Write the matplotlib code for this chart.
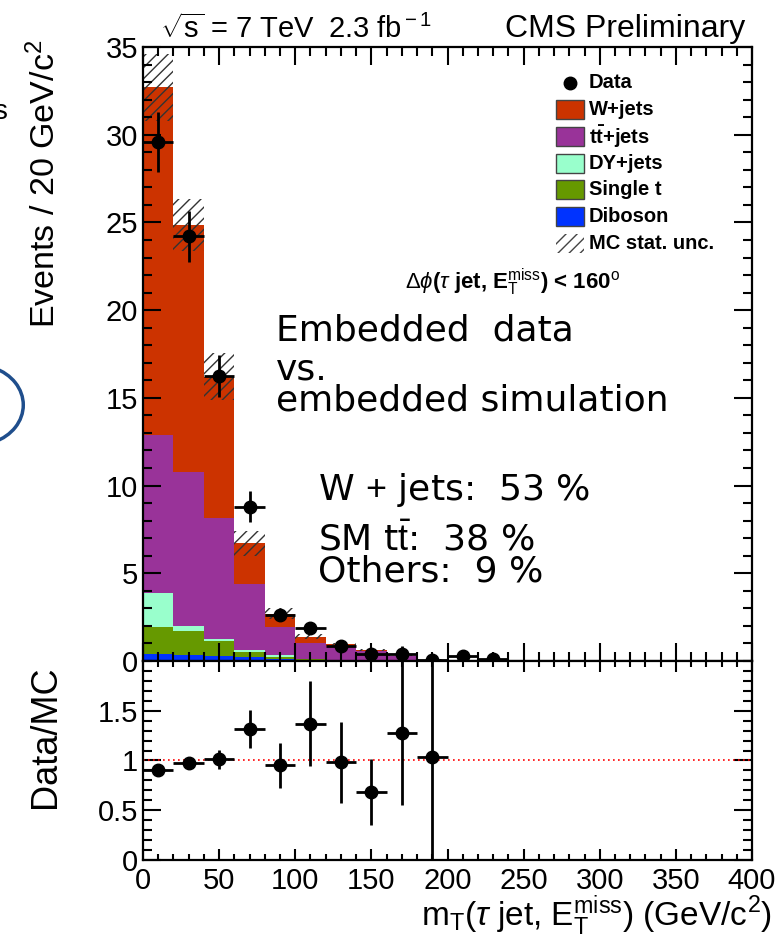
import matplotlib
matplotlib.use('Agg')
import matplotlib.pyplot as plt
import numpy as np
from matplotlib.patches import Rectangle, Arc
from matplotlib.lines import Line2D
from matplotlib.ticker import MultipleLocator

plt.rcParams['font.family'] = ['Liberation Sans', 'DejaVu Sans']
plt.rcParams['mathtext.fontset'] = 'custom'
plt.rcParams['mathtext.rm'] = 'Liberation Sans'
plt.rcParams['mathtext.it'] = 'Liberation Sans:italic'
plt.rcParams['mathtext.bf'] = 'Liberation Sans:bold'
plt.rcParams['hatch.linewidth'] = 1.0

# transverse mass bins, 20 GeV wide
edges = np.arange(0, 260, 20)

# MC stack, events per bin (bottom to top)
diboson  = [0.40, 0.34, 0.26, 0.20, 0.10, 0.05, 0.03, 0.02, 0.01, 0.01, 0.00, 0.00]
single_t = [1.56, 1.37, 0.90, 0.33, 0.14, 0.05, 0.03, 0.02, 0.01, 0.00, 0.00, 0.00]
dy_jets  = [1.94, 0.29, 0.09, 0.10, 0.10, 0.03, 0.02, 0.01, 0.00, 0.00, 0.00, 0.00]
tt_jets  = [9.00, 8.80, 6.90, 3.77, 1.60, 0.89, 0.78, 0.54, 0.28, 0.06, 0.03, 0.02]
w_jets   = [19.8, 14.06, 8.05, 2.30, 0.76, 0.37, 0.11, 0.02, 0.00, 0.00, 0.00, 0.00]
mc_unc   = [1.90, 1.50, 1.35, 0.70, 0.30, 0.15, 0.08, 0.05, 0.03, 0.02, 0.01, 0.01]

# embedded data
data     = [29.6, 24.2, 16.25, 8.8, 2.62, 1.88, 0.86, 0.40, 0.40, 0.06, 0.30, 0.10]
data_err = [1.70, 1.45, 1.20, 0.90, 0.35, 0.25, 0.25, 0.20, 0.45, 0.35, 0.20, 0.15]

# data/MC ratio, first ten bins
ratio     = [0.90, 0.97, 1.01, 1.32, 0.95, 1.37, 0.98, 0.68, 1.28, 1.04]
ratio_err = [0.05, 0.05, 0.10, 0.19, 0.23, 0.43, 0.41, 0.33, 0.73, 1.05]

samples = [diboson, single_t, dy_jets, tt_jets, w_jets]
colors = ['#0033ff', '#669900', '#99ffcc', '#993399', '#cc3300']
names = ['Diboson', 'Single t', 'DY+jets', r'$\mathbf{t\bar{t}}$+jets', 'W+jets']

left = edges[:-1]
centers = left + 10
W = 776 / 100.0
H = 938 / 100.0
fig = plt.figure(figsize=(W, H), dpi=100)
ax1 = fig.add_axes([0.1843, 0.2953, 0.7848, 0.6546])
ax2 = fig.add_axes([0.1843, 0.0832, 0.7848, 0.2121])

bottom = np.zeros(len(left))
for vals, col in zip(samples, colors):
    ax1.bar(left, vals, width=20, bottom=bottom, align='edge', color=col, linewidth=0)
    bottom = bottom + np.array(vals)
total = bottom
unc = np.array(mc_unc)
ax1.bar(left, 2 * unc, width=20, bottom=total - unc, align='edge', fill=False,
        hatch='///', edgecolor='#333333', linewidth=0)

ax1.errorbar(centers, data, yerr=data_err, xerr=10, fmt='o', color='k', ms=9,
             elinewidth=2, capsize=0)

ax2.axhline(1.0, color='red', ls=(0, (1, 2)), lw=1.2)
ax2.errorbar(centers[:len(ratio)], ratio, yerr=ratio_err, xerr=10, fmt='o', color='k',
             ms=9, elinewidth=2, capsize=0)

ax1.set_xlim(0, 400)
ax1.set_ylim(0, 35)
ax2.set_xlim(0, 400)
ax2.set_ylim(0, 2)

for ax in (ax1, ax2):
    ax.xaxis.set_major_locator(MultipleLocator(50))
    ax.xaxis.set_minor_locator(MultipleLocator(10))
    ax.tick_params(which='both', direction='in', top=True, right=True, width=1.5,
                   labelsize=21)
    for s in ax.spines.values():
        s.set_linewidth(1.6)
ax1.yaxis.set_major_locator(MultipleLocator(5))
ax1.yaxis.set_minor_locator(MultipleLocator(1))
ax1.tick_params(which='major', length=13)
ax1.tick_params(which='minor', length=6.5)
ax1.tick_params(axis='x', labelbottom=False)
ax2.yaxis.set_minor_locator(MultipleLocator(0.1))
ax2.set_yticks([0, 0.5, 1, 1.5])
ax2.set_yticklabels(['0', '0.5', '1', '1.5'])
ax2.tick_params(axis='x', which='major', length=8, pad=5)
ax2.tick_params(axis='x', which='minor', length=4)
ax2.tick_params(axis='y', which='major', length=13)
ax2.tick_params(axis='y', which='minor', length=6.5)

# axis titles
fig.text(0.058, 1 - 40 / 938, r'Events / 20 GeV/c$^{2}$', rotation=90, ha='center',
         va='top', fontsize=24.5)
fig.text(0.058, 1 - 737 / 938, 'Data/MC', rotation=90, ha='center', va='center',
         fontsize=26)
fig.text(0.995, 1 - 916 / 938,
         r'm$_{\rm T}$($\tau$ jet, E$_{\rm T}^{\rm miss}$) (GeV/c$^{2}$)',
         ha='right', va='center', fontsize=24)

fig.text(160 / 776, 1 - 29 / 938, r'$\sqrt{\rm s}$ = 7 TeV', ha='left', va='center',
         fontsize=21)
fig.text(328 / 776, 1 - 29 / 938, r'2.3 fb$^{\rm -1}$', ha='left', va='center',
         fontsize=21)
fig.text(745 / 776, 1 - 29 / 938, 'CMS Preliminary', ha='right', va='center', fontsize=23)

# legend rows, drawn in figure pixels
row0 = 83
step = 26.7
lx0, lx1, tx = 556, 584, 589
fig.add_artist(Line2D([(lx0 + lx1) / 2 / 776], [1 - row0 / 938], marker='o', color='k',
                      ls='none', ms=9, transform=fig.transFigure))
fig.text(tx / 776, 1 - row0 / 938, 'Data', ha='left', va='center', fontsize=14.5,
         fontweight='bold')
for i, (nm, col) in enumerate(zip(names[::-1], colors[::-1])):
    yc = row0 + step * (i + 1)
    fig.add_artist(Rectangle((lx0 / 776, 1 - (yc + 9.5) / 938), (lx1 - lx0) / 776, 19 / 938,
                             facecolor=col, edgecolor='#444444', lw=1.0,
                             transform=fig.transFigure))
    fig.text(tx / 776, 1 - yc / 938, nm, ha='left', va='center', fontsize=14.5,
             fontweight='bold')
yc = row0 + step * 6
fig.add_artist(Rectangle((lx0 / 776, 1 - (yc + 9.5) / 938), (lx1 - lx0) / 776, 19 / 938,
                         facecolor='none', edgecolor='#444444', hatch='///', lw=0,
                         transform=fig.transFigure))
fig.text(tx / 776, 1 - yc / 938, 'MC stat. unc.', ha='left', va='center', fontsize=14.5,
         fontweight='bold')

ax1.text(0.430, 0.616,
         r'$\Delta\phi$($\tau$ jet, E$_{\rm T}^{\rm miss}$) < 160$^{\rm o}$',
         transform=ax1.transAxes, ha='left', va='center', fontsize=16, fontweight='bold')

sans = ['DejaVu Sans']
ax1.text(0.218, 0.539, 'Embedded  data', transform=ax1.transAxes, ha='left',
         va='center', fontsize=26, family=sans)
ax1.text(0.218, 0.475, 'vs.', transform=ax1.transAxes, ha='left', va='center',
         fontsize=26, family=sans)
ax1.text(0.218, 0.424, 'embedded simulation', transform=ax1.transAxes, ha='left',
         va='center', fontsize=26, family=sans)
ax1.text(0.287, 0.2785, r'W $+$ jets:  53 %', transform=ax1.transAxes, ha='left',
         va='center', fontsize=26, family=sans)
ax1.text(0.287, 0.198, r'SM t$\bar{\rm t}$:  38 %', transform=ax1.transAxes, ha='left',
         va='center', fontsize=26, family=sans)
ax1.text(0.287, 0.146, 'Others:  9 %', transform=ax1.transAxes, ha='left',
         va='center', fontsize=26, family=sans)

# slide leftovers at the left edge
fig.add_artist(Arc((-0.03, 1 - 405 / 938), 0.12, 0.085, theta1=-60, theta2=60,
                   transform=fig.transFigure, color='#1f4e8c', lw=2.5))
fig.text(-0.009, 1 - 112 / 938, 's', ha='left', va='center', fontsize=20)

plt.savefig('out.png', dpi=100)
